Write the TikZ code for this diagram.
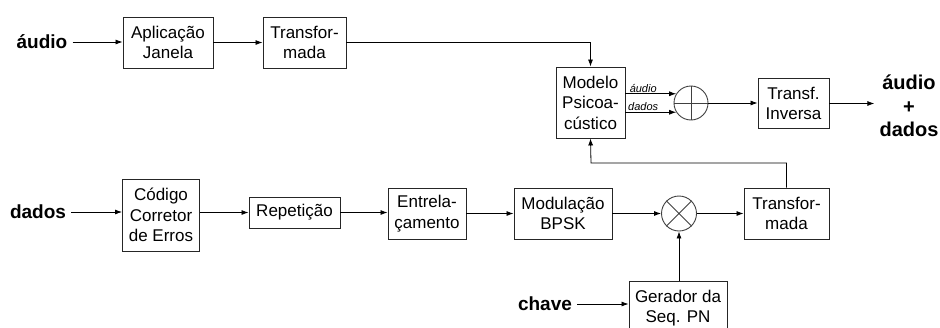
\documentclass[tikz,border=0pt]{standalone}
\usepackage{fontspec}
\setmainfont{Liberation Sans}
\usetikzlibrary{arrows.meta,calc}
\begin{document}
\begin{tikzpicture}[x=1pt,y=-1pt,
  blk/.style={draw=black!85,line width=0.9pt,inner sep=0pt,align=center,font=\fontsize{17}{20.5}\selectfont},
  op/.style={draw=black!75,line width=0.9pt,circle,inner sep=0pt,minimum size=34pt},
  lab/.style={inner sep=5pt,font=\fontsize{19}{23}\selectfont\bfseries},
  sm/.style={inner sep=1pt,font=\fontsize{11}{12}\selectfont\itshape},
  arr/.style={line width=0.8pt,-{Latex[length=7pt,width=5pt]}},
  ln/.style={line width=0.8pt}]
\useasboundingbox (0,0) rectangle (940,327);
% top row
\node[lab] (ain) at (42,42) {áudio};
\node[blk,minimum width=90pt,minimum height=51pt] (apl) at (168,42.5) {Aplicação\\Janela};
\node[blk,minimum width=83pt,minimum height=51pt] (tr1) at (304.5,42.5) {Transfor-\\mada};
\node[blk,minimum width=69pt,minimum height=71pt] (mod) at (590.5,102.5) {Modelo\\Psicoa-\\cústico};
\node[op] (sum) at (691,103) {};
\draw[black!75,line width=0.8pt] (sum.north) -- (sum.south) (sum.west) -- (sum.east);
\node[blk,minimum width=71pt,minimum height=50pt] (inv) at (793.5,103.5) {Transf.\\Inversa};
\node[inner sep=5pt,align=center,font=\fontsize{20}{23.5}\selectfont\bfseries] (out) at (909,106) {áudio\\+\\dados};
% bottom row
\node[lab] (din) at (38,212) {dados};
\node[blk,minimum width=77pt,minimum height=72pt] (cod) at (161,215) {Código\\Corretor\\de Erros};
\node[blk,minimum width=91pt,minimum height=31pt] (rep) at (294.5,212.5) {Repetição};
\node[blk,minimum width=78pt,minimum height=51pt] (ent) at (427,213.5) {Entrela-\\çamento};
\node[blk,minimum width=98pt,minimum height=51pt] (bpsk) at (563,213.5) {Modulação\\BPSK};
\node[op,minimum size=35pt] (mul) at (679,213.5) {};
\draw[black!75,line width=0.8pt] (mul.45) -- (mul.225) (mul.135) -- (mul.315);
\node[blk,minimum width=85pt,minimum height=51pt] (tr2) at (786.5,213.5) {Transfor-\\mada};
\node[blk,minimum width=98pt,minimum height=54pt] (ger) at (678,308) {Gerador da\\Seq. PN};
\node[lab] (key) at (545,304) {chave};
\coordinate (fb) at (591,163);
% connectors
\draw[arr] (ain.east) -- (ain.east -| apl.west);
\draw[arr] (apl.east) -- (apl.east -| tr1.west);
\draw[arr] (tr1.east) -| (mod.north);
\draw[arr] (mod.east |- sum.148) -- node[sm,above,pos=0.35] {áudio} (sum.148);
\draw[arr] (mod.east |- sum.212) -- node[sm,above,pos=0.35] {dados} (sum.212);
\draw[arr] (sum.east) -- (sum.east -| inv.west);
\draw[arr] (inv.east) -- (inv.east -| out.west);
\draw[arr] (din.east) -- (din.east -| cod.west);
\draw[arr] (cod.east |- rep) -- (rep.west);
\draw[arr] (rep.east) -- (rep.east -| ent.west);
\draw[arr] (ent.east) -- (ent.east -| bpsk.west);
\draw[arr] (bpsk.east) -- (mul.west);
\draw[arr] (mul.east) -- (mul.east -| tr2.west);
\draw[arr] (mul.south |- ger.north) -- (mul.south);
\draw[arr] (key.east) -- (key.east -| ger.west);
\draw[arr] (tr2.north) |- (fb) -- (mod.south);
\end{tikzpicture}
\end{document}
